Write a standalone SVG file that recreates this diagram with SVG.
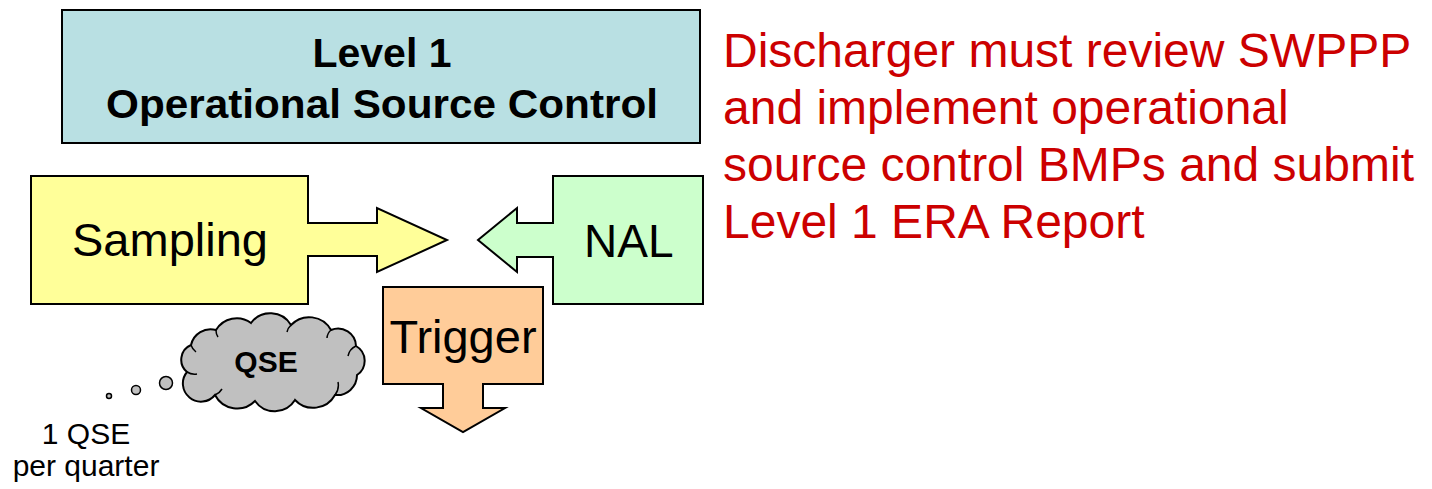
<svg xmlns="http://www.w3.org/2000/svg" width="1432" height="489" viewBox="0 0 1432 489">
<style>
.shape{stroke:#000;stroke-width:2;stroke-linejoin:miter}
.t{font-family:"Liberation Sans",Arial,sans-serif;fill:#000}
.b{font-weight:bold}
.red{font-family:"Liberation Sans",Arial,sans-serif;fill:#CC0000;font-size:48px}
.dot{fill:#C0C0C0;stroke:#000;stroke-width:1.5}
</style>
<rect width="1432" height="489" fill="#fff"/>
<g id="level1">
<rect class="shape" x="62" y="10" width="638" height="133" fill="#B9E0E3"/>
<text class="t b" x="382" y="67" font-size="41" text-anchor="middle">Level 1</text>
<text class="t b" x="382" y="118" font-size="41" text-anchor="middle" textLength="552" lengthAdjust="spacingAndGlyphs">Operational Source Control</text>
</g>
<g id="sampling">
<path class="shape" fill="#FFFF99" d="M31,176 H308 V223 H377 V208 L447,240 L377,272 V256 H308 V304 H31 Z"/>
<text class="t" x="72" y="256" font-size="47">Sampling</text>
</g>
<g id="nal">
<path class="shape" fill="#CCFFCC" d="M553,176 H703 V304 H553 V257 H517 V272 L478,240 L517,208 V223 H553 Z"/>
<text class="t" x="584" y="257" font-size="46">NAL</text>
</g>
<g id="trigger">
<path class="shape" fill="#FFCC99" d="M383,287 H543 V384 H483 V408 H505 L463,432 L421,408 H443 V384 H383 Z"/>
<text class="t" x="463" y="353" font-size="47" text-anchor="middle">Trigger</text>
</g>
<g id="qse-cloud">
<path class="shape" fill="#C0C0C0" d="M187,372 A16,16 0 0 1 191,345 A20,20 0 0 1 216,330 A24,24 0 0 1 251,323 A24,24 0 0 1 291,325 A25,25 0 0 1 331,330 A18,18 0 0 1 356,346 A17,17 0 0 1 357,375 A20,20 0 0 1 335,395 A25,25 0 0 1 295,400 A24,24 0 0 1 255,401 A25,25 0 0 1 215,395 A18,18 0 0 1 187,372 Z"/>
<path fill="none" stroke="#000" stroke-width="1.5" d="M191,345 A14,14 0 0 0 196,352 M216,330 A12,12 0 0 0 218,337 M291,325 A14,14 0 0 0 287,332 M331,330 A12,12 0 0 0 327,338 M356,346 A14,14 0 0 0 348,356 M335,395 A16,16 0 0 0 338,382 M215,395 A14,14 0 0 0 222,389 M187,372 A14,14 0 0 0 197,374"/>
<text class="t b" x="266" y="372" font-size="30" text-anchor="middle">QSE</text>
</g>
<g id="connectors">
<circle class="dot" cx="166" cy="383" r="6.5"/>
<circle class="dot" cx="136" cy="390" r="4.5"/>
<circle class="dot" cx="109" cy="396" r="2.5"/>
</g>
<g id="qse-note">
<text class="t" x="86" y="444" font-size="30" text-anchor="middle">1 QSE</text>
<text class="t" x="86" y="476" font-size="30" text-anchor="middle">per quarter</text>
</g>
<g id="note">
<text class="red" x="723" y="67">Discharger must review SWPPP</text>
<text class="red" x="723" y="124">and implement operational</text>
<text class="red" x="723" y="181">source control BMPs and submit</text>
<text class="red" x="723" y="238">Level 1 ERA Report</text>
</g>
</svg>
